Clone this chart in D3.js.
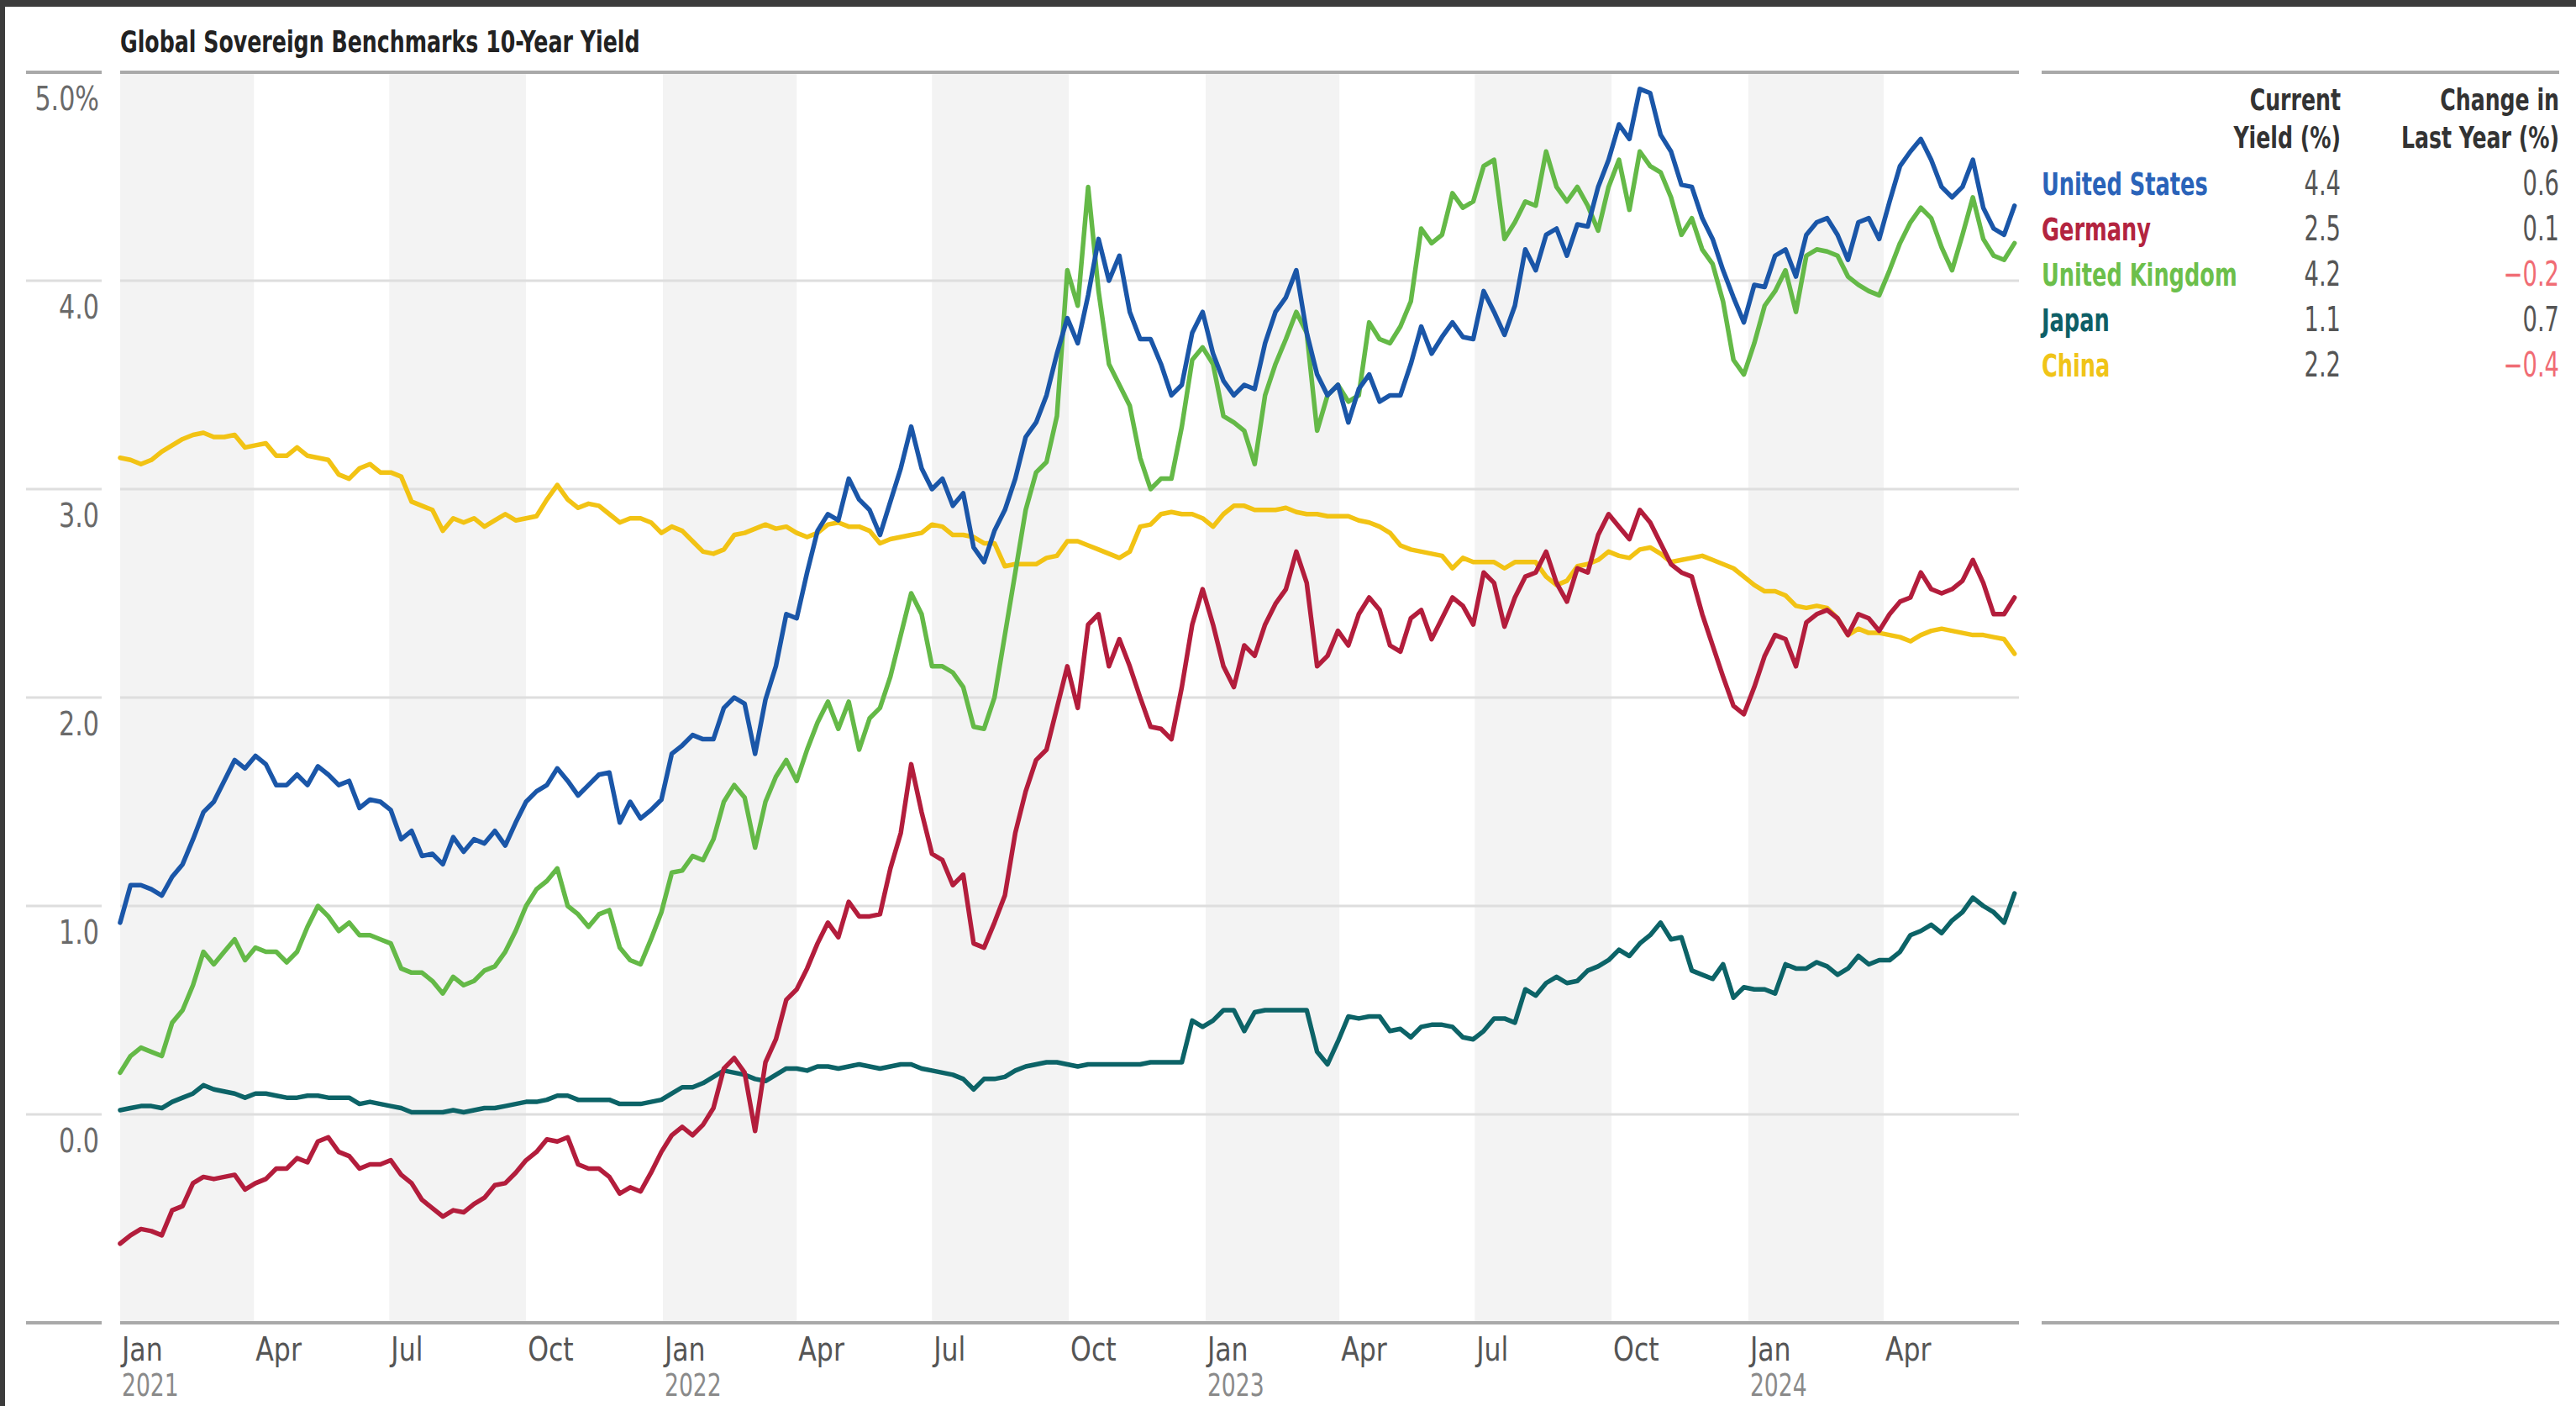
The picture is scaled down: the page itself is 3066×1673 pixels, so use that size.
<!DOCTYPE html>
<html>
<head>
<meta charset="utf-8">
<script src="https://cdn.jsdelivr.net/npm/d3@7"></script>
<style>
body { margin: 0; background: #fff; }
svg text { font-family: "Liberation Sans Narrow", "Arial Narrow", "DejaVu Sans Condensed", sans-serif; }
</style>
</head>
<body>
<svg id="chart" width="3066" height="1673"></svg>
<script>
// weekly observations starting 1 Jan 2021
var firstDate = "2021-01-01";
var weekCount = 183;

var countries = ["United States", "Germany", "United Kingdom", "Japan", "China"];
var currentYield = ["4.4", "2.5", "4.2", "1.1", "2.2"];
var changeLastYear = ["0.6", "0.1", "\u22120.2", "0.7", "\u22120.4"];
var colors = ["#1a56a8", "#b31d3c", "#64b947", "#0c6367", "#f2c314"];
var labelColors = ["#2a63b9", "#b3243f", "#6cbf4b", "#0e5f66", "#f0c418"];

var yTicks = [0, 1, 2, 3, 4, 5];
var monthNames = ["Jan", "Feb", "Mar", "Apr", "May", "Jun", "Jul", "Aug", "Sep", "Oct", "Nov", "Dec"];
var shadedQuarters = ["2021-01-01", "2021-07-01", "2022-01-01", "2022-07-01", "2023-01-01", "2023-07-01", "2024-01-01"];

var usYield = [
  0.92,1.10,1.10,1.08,1.05,1.14,1.20,1.32,1.45,1.50,
  1.60,1.70,1.66,1.72,1.68,1.58,1.58,1.63,1.58,1.67,
  1.63,1.58,1.60,1.47,1.51,1.50,1.46,1.32,1.36,1.24,
  1.25,1.20,1.33,1.26,1.32,1.30,1.36,1.29,1.40,1.50,
  1.55,1.58,1.66,1.60,1.53,1.58,1.63,1.64,1.40,1.50,
  1.42,1.46,1.51,1.73,1.77,1.82,1.80,1.80,1.95,2.00,
  1.97,1.73,1.99,2.15,2.40,2.38,2.60,2.80,2.88,2.85,
  3.05,2.95,2.90,2.78,2.94,3.10,3.30,3.10,3.00,3.05,
  2.92,2.98,2.72,2.65,2.80,2.90,3.05,3.25,3.32,3.45,
  3.65,3.82,3.70,3.93,4.20,4.00,4.12,3.85,3.72,3.72,
  3.60,3.45,3.50,3.75,3.85,3.65,3.52,3.45,3.50,3.48,
  3.70,3.85,3.92,4.05,3.75,3.55,3.45,3.50,3.32,3.48,
  3.55,3.42,3.45,3.45,3.60,3.78,3.65,3.73,3.80,3.73,
  3.72,3.95,3.85,3.74,3.88,4.15,4.05,4.22,4.25,4.12,
  4.27,4.26,4.45,4.58,4.75,4.68,4.92,4.90,4.70,4.62,
  4.46,4.45,4.30,4.20,4.05,3.92,3.80,3.98,3.97,4.12,
  4.15,4.02,4.22,4.28,4.30,4.22,4.10,4.28,4.30,4.20,
  4.38,4.55,4.62,4.68,4.58,4.45,4.40,4.45,4.58,4.35,
  4.25,4.22,4.36
];

var germanyYield = [
  -0.62,-0.58,-0.55,-0.56,-0.58,-0.46,-0.44,-0.33,-0.30,-0.31,
  -0.30,-0.29,-0.36,-0.33,-0.31,-0.26,-0.26,-0.21,-0.23,-0.13,
  -0.11,-0.18,-0.20,-0.26,-0.24,-0.24,-0.22,-0.29,-0.33,-0.41,
  -0.45,-0.49,-0.46,-0.47,-0.43,-0.40,-0.34,-0.33,-0.28,-0.22,
  -0.18,-0.12,-0.13,-0.11,-0.24,-0.26,-0.26,-0.30,-0.38,-0.35,
  -0.37,-0.28,-0.18,-0.10,-0.06,-0.10,-0.05,0.03,0.22,0.27,
  0.20,-0.08,0.25,0.36,0.55,0.60,0.70,0.82,0.92,0.85,
  1.02,0.95,0.95,0.96,1.18,1.35,1.68,1.45,1.25,1.22,
  1.10,1.15,0.82,0.80,0.92,1.05,1.35,1.55,1.70,1.75,
  1.95,2.15,1.95,2.35,2.40,2.15,2.28,2.15,2.00,1.86,
  1.85,1.80,2.05,2.35,2.52,2.35,2.15,2.05,2.25,2.20,
  2.35,2.45,2.52,2.70,2.55,2.15,2.20,2.32,2.25,2.40,
  2.48,2.42,2.25,2.22,2.38,2.42,2.28,2.38,2.48,2.44,
  2.35,2.60,2.55,2.34,2.48,2.58,2.60,2.70,2.55,2.46,
  2.62,2.60,2.78,2.88,2.82,2.76,2.90,2.84,2.74,2.64,
  2.60,2.58,2.40,2.25,2.10,1.96,1.92,2.05,2.20,2.30,
  2.28,2.15,2.36,2.40,2.42,2.38,2.30,2.40,2.38,2.32,
  2.40,2.46,2.48,2.60,2.52,2.50,2.52,2.56,2.66,2.55,
  2.40,2.40,2.48
];

var ukYield = [
  0.20,0.28,0.32,0.30,0.28,0.44,0.50,0.62,0.78,0.72,
  0.78,0.84,0.74,0.80,0.78,0.78,0.73,0.78,0.90,1.00,
  0.95,0.88,0.92,0.86,0.86,0.84,0.82,0.70,0.68,0.68,
  0.64,0.58,0.66,0.62,0.64,0.69,0.71,0.78,0.88,1.00,
  1.08,1.12,1.18,1.00,0.96,0.90,0.96,0.98,0.80,0.74,
  0.72,0.84,0.97,1.16,1.17,1.24,1.22,1.32,1.50,1.58,
  1.52,1.28,1.50,1.62,1.70,1.60,1.75,1.88,1.98,1.85,
  1.98,1.75,1.90,1.95,2.10,2.30,2.50,2.40,2.15,2.15,
  2.12,2.05,1.86,1.85,2.00,2.30,2.60,2.90,3.08,3.13,
  3.35,4.05,3.88,4.45,3.95,3.60,3.50,3.40,3.15,3.00,
  3.05,3.05,3.30,3.62,3.68,3.60,3.35,3.32,3.28,3.12,
  3.45,3.60,3.72,3.85,3.75,3.28,3.45,3.50,3.42,3.45,
  3.80,3.72,3.70,3.78,3.90,4.25,4.18,4.22,4.42,4.35,
  4.38,4.55,4.58,4.20,4.28,4.38,4.36,4.62,4.45,4.38,
  4.45,4.36,4.24,4.45,4.58,4.34,4.62,4.55,4.52,4.40,
  4.22,4.30,4.15,4.08,3.90,3.62,3.55,3.70,3.88,3.95,
  4.05,3.85,4.12,4.15,4.14,4.12,4.02,3.98,3.95,3.93,
  4.05,4.18,4.28,4.35,4.30,4.16,4.05,4.22,4.40,4.20,
  4.12,4.10,4.18
];

var japanYield = [
  0.02,0.03,0.04,0.04,0.03,0.06,0.08,0.10,0.14,0.12,
  0.11,0.10,0.08,0.10,0.10,0.09,0.08,0.08,0.09,0.09,
  0.08,0.08,0.08,0.05,0.06,0.05,0.04,0.03,0.01,0.01,
  0.01,0.01,0.02,0.01,0.02,0.03,0.03,0.04,0.05,0.06,
  0.06,0.07,0.09,0.09,0.07,0.07,0.07,0.07,0.05,0.05,
  0.05,0.06,0.07,0.10,0.13,0.13,0.15,0.18,0.21,0.20,
  0.19,0.17,0.16,0.19,0.22,0.22,0.21,0.23,0.23,0.22,
  0.23,0.24,0.23,0.22,0.23,0.24,0.24,0.22,0.21,0.20,
  0.19,0.17,0.12,0.17,0.17,0.18,0.21,0.23,0.24,0.25,
  0.25,0.24,0.23,0.24,0.24,0.24,0.24,0.24,0.24,0.25,
  0.25,0.25,0.25,0.45,0.42,0.45,0.50,0.50,0.40,0.49,
  0.50,0.50,0.50,0.50,0.50,0.30,0.24,0.35,0.47,0.46,
  0.47,0.47,0.40,0.41,0.37,0.42,0.43,0.43,0.42,0.37,
  0.36,0.40,0.46,0.46,0.44,0.60,0.57,0.63,0.66,0.63,
  0.64,0.69,0.71,0.74,0.79,0.76,0.82,0.86,0.92,0.84,
  0.85,0.69,0.67,0.65,0.72,0.56,0.61,0.60,0.60,0.58,
  0.72,0.70,0.70,0.73,0.71,0.67,0.70,0.76,0.72,0.74,
  0.74,0.78,0.86,0.88,0.91,0.87,0.93,0.97,1.04,1.00,
  0.97,0.92,1.06
];

var chinaYield = [
  3.15,3.14,3.12,3.14,3.18,3.21,3.24,3.26,3.27,3.25,
  3.25,3.26,3.20,3.21,3.22,3.16,3.16,3.20,3.16,3.15,
  3.14,3.07,3.05,3.10,3.12,3.08,3.08,3.06,2.94,2.92,
  2.90,2.80,2.86,2.84,2.86,2.82,2.85,2.88,2.85,2.86,
  2.87,2.95,3.02,2.95,2.91,2.93,2.92,2.88,2.84,2.86,
  2.86,2.84,2.79,2.82,2.80,2.75,2.70,2.69,2.71,2.78,
  2.79,2.81,2.83,2.81,2.82,2.79,2.77,2.79,2.83,2.84,
  2.82,2.82,2.80,2.74,2.76,2.77,2.78,2.79,2.83,2.82,
  2.78,2.78,2.77,2.74,2.74,2.63,2.64,2.64,2.64,2.67,
  2.68,2.75,2.75,2.73,2.71,2.69,2.67,2.70,2.82,2.83,
  2.88,2.89,2.88,2.88,2.86,2.82,2.88,2.92,2.92,2.90,
  2.90,2.90,2.91,2.89,2.88,2.88,2.87,2.87,2.87,2.85,
  2.84,2.82,2.79,2.73,2.71,2.70,2.69,2.68,2.62,2.67,
  2.65,2.65,2.65,2.62,2.65,2.65,2.65,2.58,2.54,2.56,
  2.63,2.64,2.66,2.70,2.68,2.67,2.71,2.72,2.69,2.65,
  2.66,2.67,2.68,2.66,2.64,2.62,2.58,2.54,2.51,2.51,
  2.49,2.44,2.43,2.44,2.43,2.38,2.30,2.33,2.31,2.31,
  2.30,2.29,2.27,2.30,2.32,2.33,2.32,2.31,2.30,2.30,
  2.29,2.28,2.21
];

var seriesValues = [usYield, germanyYield, ukYield, japanYield, chinaYield];
var drawOrder = [4, 3, 1, 2, 0];

var parse = d3.timeParse("%Y-%m-%d");
var start = parse(firstDate);
var dates = d3.range(weekCount).map(function(i) { return d3.timeDay.offset(start, i * 7); });

var svg = d3.select("#chart");

// the installed condensed face is wider than the original, so squeeze text sideways
function squeeze(sel, k) {
  sel.each(function() {
    var t = d3.select(this);
    var tx = +t.attr("x") || 0, ty = +t.attr("y") || 0;
    t.attr("x", 0).attr("y", 0)
     .attr("transform", "translate(" + tx + "," + ty + ") scale(" + k + ",1)");
  });
}

var x = d3.scaleTime()
    .domain([parse("2021-01-01"), parse("2024-07-01")])
    .range([143, 2403]);

var y = d3.scaleLinear()
    .domain([-1, 5])
    .range([1574, 86]);

// frame
svg.append("rect").attr("x", 0).attr("y", 0).attr("width", 3066).attr("height", 1673).attr("fill", "#fff");
svg.append("rect").attr("x", 0).attr("y", 0).attr("width", 3066).attr("height", 8).attr("fill", "#3c3c3c");
svg.append("rect").attr("x", 0).attr("y", 0).attr("width", 6).attr("height", 1673).attr("fill", "#3c3c3c");

svg.append("text")
    .attr("x", 143)
    .attr("y", 62)
    .attr("font-size", 36)
    .attr("font-weight", "bold")
    .attr("fill", "#222")
    .text("Global Sovereign Benchmarks 10-Year Yield")
    .call(squeeze, 0.78);

// quarter bands
svg.selectAll(".band")
    .data(shadedQuarters)
  .enter()
    .append("rect")
    .attr("class", "band")
    .attr("x", function(d) { return x(parse(d)); })
    .attr("y", y(5))
    .attr("width", function(d) { var p = parse(d); return x(d3.timeMonth.offset(p, 3)) - x(p); })
    .attr("height", y(-1) - y(5))
    .attr("fill", "#f3f3f3");

// gridlines
svg.selectAll(".grid")
    .data(yTicks.filter(function(d) { return d < 5; }))
  .enter()
    .append("line")
    .attr("x1", 143).attr("x2", 2403)
    .attr("y1", function(d) { return y(d); })
    .attr("y2", function(d) { return y(d); })
    .attr("stroke", "#dedede")
    .attr("stroke-width", 3);

svg.selectAll(".lgrid")
    .data(yTicks.filter(function(d) { return d < 5; }))
  .enter()
    .append("line")
    .attr("x1", 31).attr("x2", 121)
    .attr("y1", function(d) { return y(d); })
    .attr("y2", function(d) { return y(d); })
    .attr("stroke", "#dedede")
    .attr("stroke-width", 3);

var line = d3.line()
    .x(function(d, i) { return x(dates[i]); })
    .y(function(d) { return y(d); });

svg.selectAll(".series")
    .data(drawOrder)
  .enter()
    .append("path")
    .attr("d", function(s) { return line(seriesValues[s]); })
    .attr("fill", "none")
    .attr("stroke", function(s) { return colors[s]; })
    .attr("stroke-width", 5.5)
    .attr("stroke-linejoin", "round")
    .attr("stroke-linecap", "round");

// top and bottom rules
[[31, 121], [143, 2403], [2430, 3046]].forEach(function(r) {
  [5, -1].forEach(function(v) {
    svg.append("line")
        .attr("x1", r[0]).attr("x2", r[1])
        .attr("y1", y(v)).attr("y2", y(v))
        .attr("stroke", "#a9a9a9")
        .attr("stroke-width", 4);
  });
});

// y labels
svg.selectAll(".ylab")
    .data(yTicks)
  .enter()
    .append("text")
    .attr("x", 118)
    .attr("y", function(d) { return y(d) + 45; })
    .attr("text-anchor", "end")
    .attr("font-size", 39)
    .attr("fill", "#6a6a6a")
    .text(function(d) { return d3.format(".1f")(d) + (d === 5 ? "%" : ""); })
    .call(squeeze, 0.86);

// x labels
var xTicks = x.ticks(d3.timeMonth.every(3)).filter(function(d) { return d < x.domain()[1]; });

svg.selectAll(".xlab")
    .data(xTicks)
  .enter()
    .append("text")
    .attr("x", function(d) { return x(d) + 2; })
    .attr("y", 1619)
    .attr("font-size", 39)
    .attr("fill", "#555")
    .text(function(d) { return monthNames[d.getMonth()]; })
    .call(squeeze, 0.9);

svg.selectAll(".xyear")
    .data(xTicks.filter(function(d) { return d.getMonth() === 0; }))
  .enter()
    .append("text")
    .attr("x", function(d) { return x(d) + 2; })
    .attr("y", 1661)
    .attr("font-size", 37)
    .attr("fill", "#8a8a8a")
    .text(function(d) { return d.getFullYear(); })
    .call(squeeze, 0.8);

// table legend
var colA = 2786, colB = 3046;
var heads = [["Current", "Yield (%)", colA], ["Change in", "Last Year (%)", colB]];
heads.forEach(function(h) {
  svg.append("text").attr("x", h[2]).attr("y", 131).attr("text-anchor", "end")
      .attr("font-size", 35).attr("font-weight", "bold").attr("fill", "#333").text(h[0])
      .call(squeeze, 0.8);
  svg.append("text").attr("x", h[2]).attr("y", 176).attr("text-anchor", "end")
      .attr("font-size", 35).attr("font-weight", "bold").attr("fill", "#333").text(h[1])
      .call(squeeze, 0.8);
});

var rows = svg.selectAll(".row")
    .data(countries)
  .enter()
    .append("g")
    .attr("transform", function(d, i) { return "translate(0," + (232 + i * 54) + ")"; });

rows.append("text")
    .attr("x", 2430)
    .attr("font-size", 37)
    .attr("font-weight", "bold")
    .attr("fill", function(d, i) { return labelColors[i]; })
    .text(function(d) { return d; })
    .call(squeeze, 0.77);

rows.append("text")
    .attr("x", colA)
    .attr("text-anchor", "end")
    .attr("font-size", 40)
    .attr("fill", "#555")
    .text(function(d, i) { return currentYield[i]; })
    .call(squeeze, 0.76);

rows.append("text")
    .attr("x", colB)
    .attr("text-anchor", "end")
    .attr("font-size", 40)
    .attr("fill", function(d, i) { return changeLastYear[i].charAt(0) === "\u2212" ? "#f06c74" : "#555"; })
    .text(function(d, i) { return changeLastYear[i]; })
    .call(squeeze, 0.76);
</script>
</body>
</html>
